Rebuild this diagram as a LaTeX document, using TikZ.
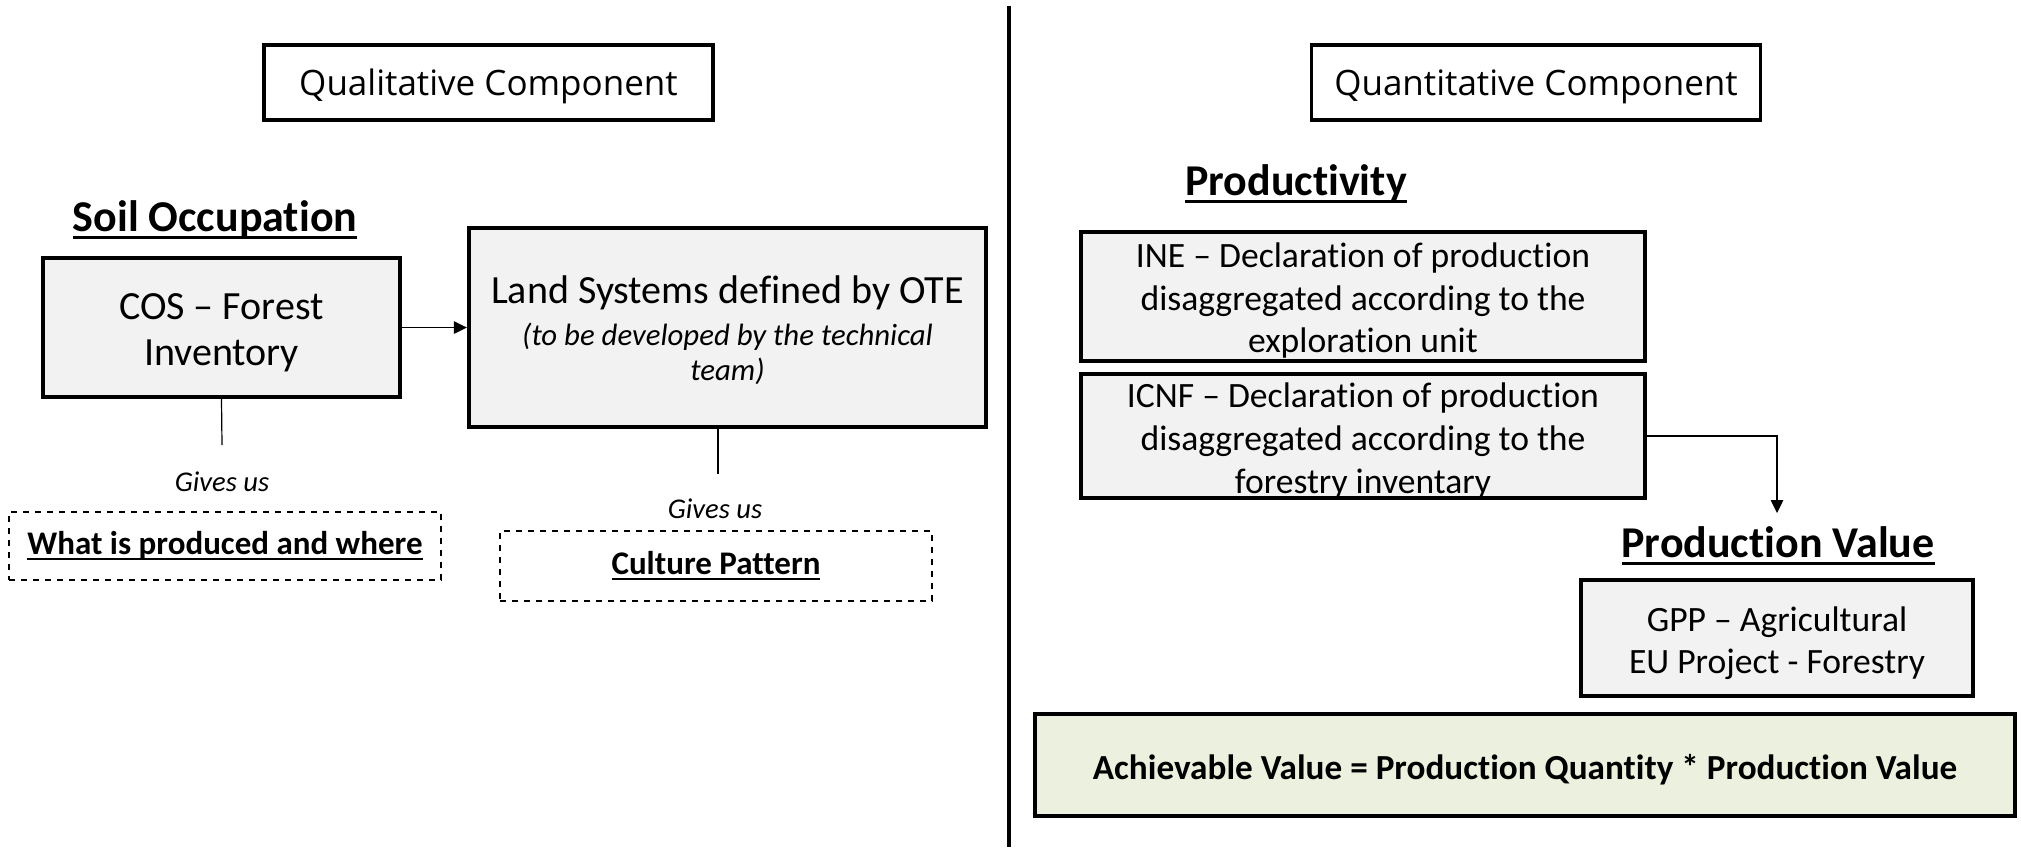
\documentclass[tikz,border=0pt]{standalone}
\usepackage{fontspec}
\setmainfont{Carlito}[Ligatures=NoCommon]
\newfontfamily\headfont{Open Sans}
\usetikzlibrary{arrows.meta}
\definecolor{boxgray}{HTML}{F2F2F2}
\definecolor{boxgreen}{HTML}{EBF1DE}
% underline drawn a little below the baseline, crossing descenders
\newcommand{\ulbar}[1]{\setbox0\hbox{#1}\leavevmode\rlap{\rule[-0.16em]{\wd0}{0.065em}}\box0}
\tikzset{
  graybox/.style={draw=black, line width=2.2pt, fill=boxgray, inner sep=0pt},
  headbox/.style={draw=black, line width=1.7pt, fill=white, inner sep=0pt,
    minimum width=224.5pt, minimum height=37.5pt},
  headtxt/.style={inner sep=0pt, font=\headfont\fontsize{17.5}{21}\selectfont},
  txt/.style={inner sep=0pt, align=center},
  dashbox/.style={draw=black, dashed, line width=0.7pt, inner sep=0pt, align=center,
    minimum width=216pt, font=\bfseries\fontsize{16.5}{20}\selectfont},
  title/.style={font=\bfseries\fontsize{22}{26}\selectfont, inner sep=0pt},
  gives/.style={font=\itshape\fontsize{14.3}{17}\selectfont, inner sep=0pt},
  thin/.style={line width=0.6pt},
  body/.style={txt, font=\fontsize{17.8}{21.3}\selectfont},
  tip/.style={-{Triangle[length=6.5pt,width=6.3pt]}},
}
\begin{document}
\begin{tikzpicture}[x=0.5pt,y=-0.5pt]
\useasboundingbox (0,0) rectangle (2021,847);

% divider between the two components
\coordinate (divtop) at (1009,6);
\coordinate (divbot) at (1009,847);
\draw[line width=2pt] (divtop) -- (divbot);

% ---------- qualitative side ----------
\node[headbox] (qual) at (488.5,82.5) {};
\node[headtxt] (qual-t) at ([yshift=-2pt]qual.center) {Qualitative Component};
\node[title] (soil) at (215,220) {\ulbar{Soil Occupation}};

\node[graybox, minimum width=178.5pt, minimum height=69.5pt] (cos) at (221.5,327.5) {};
\node[txt, font=\fontsize{20}{23.2}\selectfont] (cos-t) at ([yshift=-2.5pt]cos.center)
  {COS -- Forest\\Inventory};

\node[graybox, minimum width=258.5pt, minimum height=99.5pt] (ls) at (727.5,327.5) {};
\node[txt, font=\fontsize{20}{23}\selectfont] (ls-t) at ([yshift=-3pt]ls.center)
  {Land Systems defined by OTE\\[-1.9pt]
   {\itshape\fontsize{15.4}{17.4}\selectfont
    \begin{tabular}[t]{@{}c@{}}(to be developed by the technical\\team)\end{tabular}}};
\draw[thin, tip] (cos.east) -- (cos.east -| ls.west);

\coordinate (cosend) at (222,445);
\draw[thin] (cos.south) -- (cosend);
\node[gives] (give1) at (222,482) {Gives us};
\node[dashbox, minimum height=34pt] (what) at (225,546) {\ulbar{What is produced and where}};

\coordinate (lsend) at (718,474);
\draw[thin] (ls.south -| lsend) -- (lsend);
\node[gives] (give2) at (715,509) {Gives us};
\node[dashbox, minimum height=35pt] (culture) at (716,566) {\ulbar{Culture Pattern}};

% ---------- quantitative side ----------
\node[headbox] (quant) at (1536,82.5) {};
\node[headtxt] (quant-t) at ([yshift=-2pt]quant.center) {Quantitative Component};
\node[title] (prod) at (1296,184) {\ulbar{Productivity}};

\node[graybox, minimum width=282pt, minimum height=64.5pt] (ine) at (1363,296.5) {};
\node[body] (ine-t) at ([yshift=-2pt]ine.center)
  {INE -- Declaration of production\\disaggregated according to the\\exploration unit};
\node[graybox, minimum width=282pt, minimum height=62pt] (icnf) at (1363,436) {};
\node[body] (icnf-t) at ([yshift=-2.5pt]icnf.center)
  {ICNF -- Declaration of production\\disaggregated according to the\\forestry inventary};

\node[title] (pv) at (1778,546) {\ulbar{Production Value}};
\coordinate (pvtip) at (1777,513);
\draw[thin, tip] (icnf.east) -| (pvtip);

\node[graybox, minimum width=196pt, minimum height=58pt] (gpp) at (1777,638) {};
\node[body] (gpp-t) at ([yshift=-2.5pt]gpp.center)
  {GPP -- Agricultural\\EU Project - Forestry};

\node[graybox, fill=boxgreen, minimum width=490pt, minimum height=51pt] (achv) at (1525,765) {};
\node[txt, font=\bfseries\fontsize{17.6}{21}\selectfont] (achv-t) at ([yshift=-2.5pt]achv.center)
  {Achievable Value = Production Quantity * Production Value};
\end{tikzpicture}
\end{document}
